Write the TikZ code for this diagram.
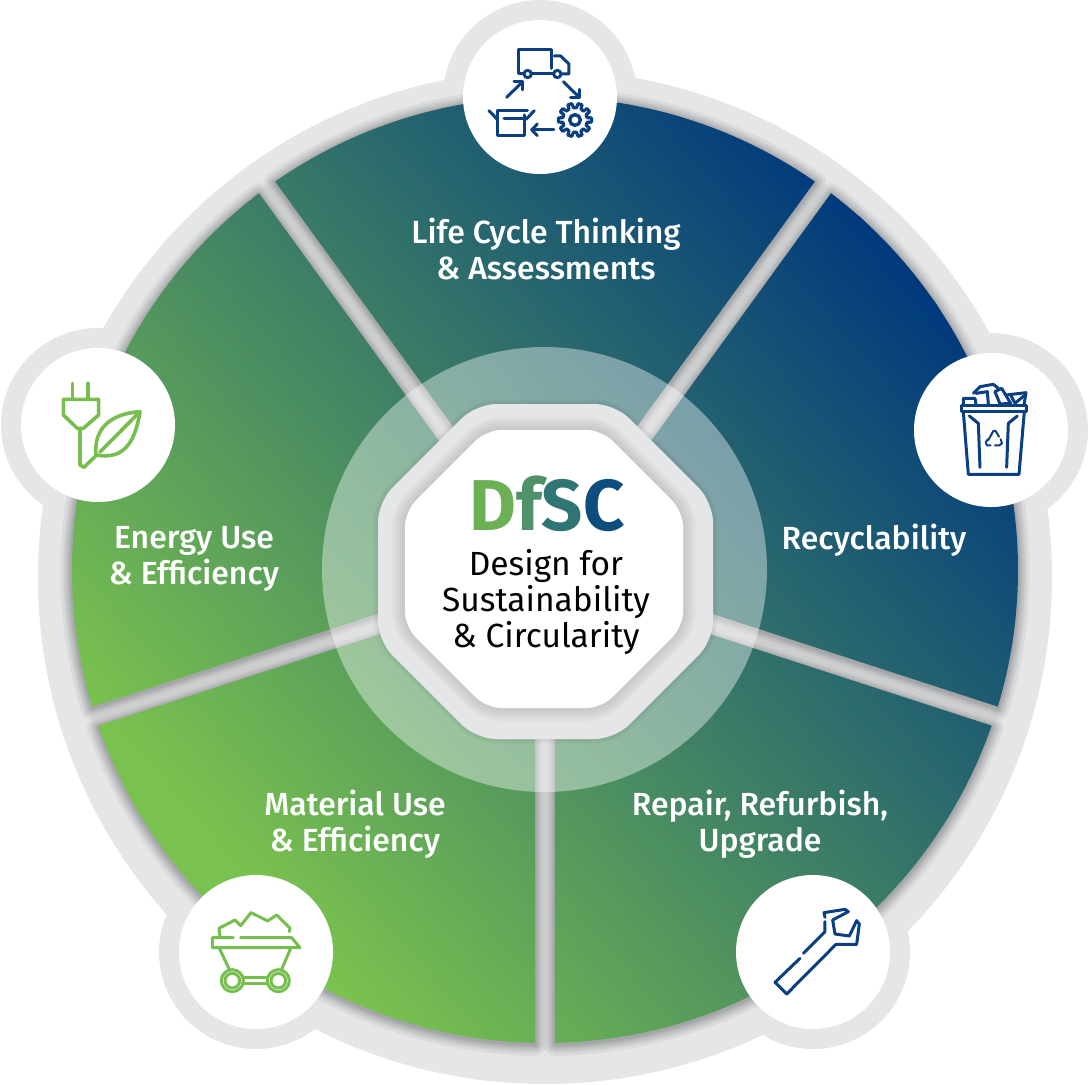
\documentclass[tikz,border=0pt]{standalone}
\usepackage{fontspec}
\setmainfont{Fira Sans}
\newfontfamily\medfont{Fira Sans Medium}
\definecolor{GrA}{HTML}{E5E6E8}
\definecolor{GreenA}{HTML}{7AC24F}
\definecolor{NavyA}{HTML}{003A7D}
\definecolor{IconN}{HTML}{0A3F82}
\definecolor{IconG}{HTML}{76BE4E}
\definecolor{LetD}{HTML}{6BB055}
\definecolor{LetF}{HTML}{4F9168}
\definecolor{LetS}{HTML}{2F7574}
\definecolor{LetC}{HTML}{0E4E7E}
\tikzset{
 zoomed/.style 2 args={shift={(#1,#2)},x=0.3333pt,y=-0.3333pt},
 navyicon/.style={draw=IconN,line width=3pt,line join=round,line cap=round,fill=none},
 greenicon/.style={draw=IconG,line width=3pt,line join=round,line cap=round,fill=none},
 label/.style={text=white,font=\medfont\fontsize{32}{36}\selectfont,align=center,inner sep=0pt},
 centertext/.style={text=black,font=\fontsize{33.5}{36}\selectfont,align=center,inner sep=0pt},
 bubble/.style={fill=white},
 halo/.style={fill=GrA},
 gradturn/.style={transform canvas={rotate around={41:(545,570)}}},
}
\newcommand{\SP}[1]{([shift={(545,570)}]#1+36:17) -- ([shift={(545,570)}]#1+1.21:473) arc[start angle=#1+1.21,end angle=#1+70.79,radius=473] -- cycle}
\newcommand{\OCT}[3]{(#1-#3*0.4142,#2-#3) -- (#1+#3*0.4142,#2-#3) -- (#1+#3,#2-#3*0.4142) -- (#1+#3,#2+#3*0.4142) -- (#1+#3*0.4142,#2+#3) -- (#1-#3*0.4142,#2+#3) -- (#1-#3,#2+#3*0.4142) -- (#1-#3,#2-#3*0.4142) -- cycle}
\begin{document}
\begin{tikzpicture}[x=1pt,y=-1pt]
\useasboundingbox (0,0) rectangle (1088,1085);
% grey base: ring and bubble halos
\fill[GrA] (545,577) circle (507);
\foreach \a/\b in {540/97,991/430,813/952,256/952,98/425}{
  \fill[halo] (\a,\b) circle (97);
}
% soft shadows of the five sectors
\foreach \s in {18,90,162,234,306}{
  \foreach \w in {23,17,13,9,6,3}{
    \draw[black,opacity=0.05,line width=\w pt,line join=round,shift={(0,1.5)}] \SP{\s};
  }
}
% gradient sectors
\begin{scope}
  \clip \SP{18} \SP{90} \SP{162} \SP{234} \SP{306};
  \fill[gradturn,GreenA] (-300,-300) rectangle (116,1440);
  \fill[gradturn,NavyA] (1014,-300) rectangle (1400,1440);
  \shade[gradturn,left color=GreenA,right color=NavyA] (115,-300) rectangle (1015,1440);
\end{scope}
% translucent disc
\fill[white,opacity=0.4] (544.5,569.5) circle (222.5);
% octagons
\foreach \w in {10,7,4}{
  \draw[black,opacity=0.02,line width=\w pt,line join=round,rounded corners=20pt] \OCT{545.5}{571.5}{167.5};
}
\fill[GrA,rounded corners=20pt] \OCT{545.5}{571.5}{167.5};
\begin{scope}
  \foreach \w in {26,21,16,11,6}{
    \draw[black,opacity=0.025,line width=\w pt,line join=round,rounded corners=15pt] \OCT{544}{569}{139};
  }
\end{scope}
\fill[white,rounded corners=15pt] \OCT{544}{569}{139};
% bubbles
\foreach \a/\b in {540/97,991/430,813/952,256/952,98/425}{
  \fill[bubble] (\a,\b) circle (77);
}
% life cycle icon
\begin{scope}[zoomed={440}{0}]
  \draw[navyicon] (250,220) -- (237,220) -- (237,150) -- (335,150) -- (335,205);
  \draw[navyicon] (276,220) -- (340,220);
  \draw[navyicon] (263,222) circle (11);
  \draw[navyicon] (352,222) circle (11);
  \draw[navyicon] (343,168) -- (362,168) -- (387,192) -- (387,222) -- (365,222);
  \draw[navyicon] (200,292) -- (248,245);
  \draw[navyicon] (222,245) -- (248,245) -- (248,270);
  \draw[navyicon] (370,245) -- (418,292);
  \draw[navyicon] (418,268) -- (418,294) -- (392,294);
  \draw[navyicon,line width=3.4pt] (405,360) circle (16);
  \draw[navyicon,line width=3.2pt,shift={(405,360)}]
    (-11:37) \foreach \i in {0,...,9}{ -- ({\i*36-11}:37) -- ({\i*36-7}:50) -- ({\i*36+7}:50) -- ({\i*36+11}:37)} -- cycle;
  \draw[navyicon] (342,390) -- (275,390);
  \draw[navyicon] (292,372) -- (275,390) -- (292,407);
  \draw[navyicon] (172,332) -- (172,407) -- (255,407) -- (255,345);
  \draw[navyicon] (172,332) -- (262,332);
  \draw[navyicon] (147,332) -- (172,358);
  \draw[navyicon] (283,332) -- (258,358);
  \draw[navyicon] (192,355) -- (255,355);
\end{scope}
% recycling bin icon
\begin{scope}[zoomed={900}{340}]
  \draw[navyicon] (183,195) rectangle (380,215);
  \draw[navyicon] (190,215) -- (205,403) -- (357,403) -- (373,215);
  \draw[navyicon] (208,228) -- (235,250) -- (240,382);
  \draw[navyicon] (352,228) -- (325,250) -- (320,382);
  \draw[navyicon,line width=2pt] (265,300) -- (280,273) -- (287,273) -- (297,290);
  \draw[navyicon,line width=2pt] (302,298) -- (306,310) -- (298,316) -- (285,316);
  \draw[navyicon,line width=2pt] (272,316) -- (261,316) -- (257,308) -- (263,298);
  \draw[navyicon] (190,192) -- (190,175) -- (225,175) -- (228,192);
  \draw[navyicon] (220,160) -- (240,140) -- (280,133) -- (295,145);
  \draw[navyicon] (228,160) -- (262,155) -- (265,192);
  \draw[navyicon] (285,155) -- (305,145) -- (332,190) -- (300,192) -- (285,155);
  \draw[navyicon] (318,165) -- (378,158) -- (372,195);
  \draw[navyicon] (332,165) -- (345,190) -- (375,165);
\end{scope}
% wrench icon
\begin{scope}[zoomed={720}{860}]
  \draw[navyicon] (315,185) -- (315,215) -- (250,280);
  \draw[navyicon] (240,295) -- (165,367) -- (200,402) -- (348,253) -- (410,253) -- (418,192) -- (410,182) -- (388,228) -- (345,222) -- (338,180) -- (385,155) -- (375,148) -- (312,158) -- (315,172);
\end{scope}
% mine cart icon
\begin{scope}[zoomed={170}{860}]
  \draw[greenicon] (150,230) -- (147,205) -- (195,180) -- (212,197) -- (243,158) -- (293,183) -- (320,165) -- (360,205) -- (358,215);
  \draw[greenicon] (190,233) -- (127,233) -- (127,263) -- (390,263) -- (365,233) -- (212,233);
  \draw[greenicon] (147,263) -- (178,328);
  \draw[greenicon] (363,263) -- (335,328);
  \draw[greenicon] (220,352) -- (292,352);
  \draw[greenicon] (220,372) -- (292,372);
  \draw[greenicon] (187,362) circle (33);
  \draw[greenicon] (187,362) circle (22);
  \draw[greenicon] (325,362) circle (33);
  \draw[greenicon] (325,362) circle (22);
\end{scope}
% plug and leaf icon
\begin{scope}[zoomed={0}{330},greenicon/.append style={line width=3.6pt}]
  \draw[greenicon] (217,160) -- (217,208);
  \draw[greenicon] (264,160) -- (264,208);
  \draw[greenicon] (190,208) -- (296,208) -- (296,255) -- (250,295) -- (232,295) -- (190,255) -- cycle;
  \draw[greenicon] (240,295) -- (240,405) -- (252,412) -- (290,375);
  \draw[greenicon] (288,375) .. controls (280,290) and (340,250) .. (420,245) .. controls (405,340) and (370,390) .. (288,375);
  \draw[greenicon] (300,366) -- (410,255);
\end{scope}
% labels
\node[label] (life) at (546,249) {Life Cycle Thinking\\\& Assessments};
\node[label] (recy) at (874,540) {Recyclability};
\node[label] (energy) at (194,559) {Energy Use\\\& Efficiency};
\node[label] (material) at (355,824) {Material Use\\\& Efficiency};
\node[label] (repair) at (760,824) {Repair, Refurbish,\\Upgrade};
\node[inner sep=0pt,font=\bfseries\fontsize{72}{72}\selectfont] (dfsc) at (547,504) {\textcolor{LetD}{D}\textcolor{LetF}{f}\textcolor{LetS}{S}\textcolor{LetC}{C}};
\node[centertext] (full) at (546,602) {Design for\\Sustainability\\\& Circularity};
\end{tikzpicture}
\end{document}
